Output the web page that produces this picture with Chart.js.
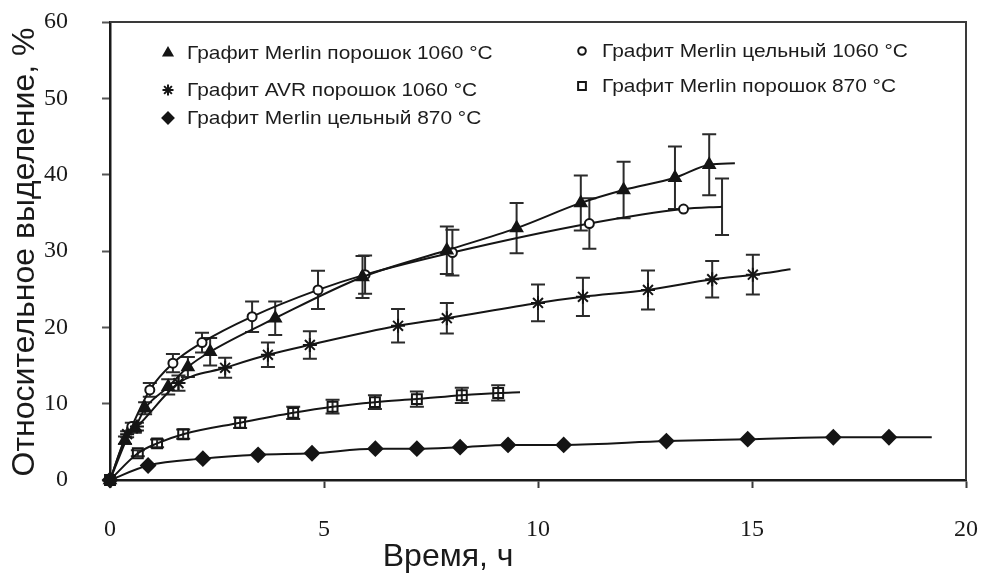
<!DOCTYPE html>
<html lang="ru">
<head>
<meta charset="utf-8">
<title>Относительное выделение</title>
<script src="https://cdn.jsdelivr.net/npm/chart.js@4/dist/chart.umd.min.js"></script>
<style>
    html, body { margin: 0; padding: 0; background: #fff; }
    #wrap { width: 984px; height: 578px; position: relative; }
</style>
</head>
<body>
<div id="wrap"><canvas id="chart"></canvas></div>
<script>
// ─── ОСИ ──────────────────────────────────────────────────
const xTicks = [0, 5, 10, 15, 20]
const yTicks = [0, 10, 20, 30, 40, 50, 60]
const xTitle = 'Время, ч'
const yTitle = 'Относительное выделение, %'

// ─── ДАННЫЕ (время, ч / выделение, % / погрешность) ──────
// Графит Merlin порошок 1060 °C
const mp1060X = [0, 0.35, 0.58, 0.82, 1.36, 1.82, 2.34, 3.86, 5.9, 7.87, 9.5, 11.0, 12.0, 13.2, 14.0]
const mp1060Y = [0, 5.2, 6.8, 9.4, 12.2, 14.8, 16.8, 21.2, 26.6, 30.1, 33.0, 36.3, 38.0, 39.6, 41.3]
const mp1060E = [0, 0.5, 0.6, 0.8, 1.0, 1.3, 1.8, 2.2, 2.75, 3.1, 3.3, 3.6, 3.7, 4.1, 4.0]
const mp1060End = [14.6, 41.5, 0]

// Графит AVR порошок 1060 °C
const avr1060X = [0, 0.4, 0.63, 1.6, 2.69, 3.69, 4.67, 6.73, 7.87, 10.0, 11.05, 12.57, 14.07, 15.02]
const avr1060Y = [0, 6.0, 7.0, 12.7, 14.7, 16.4, 17.7, 20.2, 21.2, 23.2, 24.0, 24.9, 26.3, 26.9]
const avr1060E = [0, 0.4, 0.5, 1.0, 1.3, 1.6, 1.8, 2.2, 2.0, 2.4, 2.5, 2.55, 2.4, 2.6]
const avr1060End = [15.9, 27.6, 0]

// Графит Merlin цельный 870 °C
const ms870X = [0, 0.89, 2.17, 3.46, 4.72, 6.2, 7.17, 8.18, 9.3, 10.6, 13.0, 14.9, 16.9, 18.2]
const ms870Y = [0, 1.9, 2.8, 3.3, 3.5, 4.1, 4.1, 4.3, 4.6, 4.6, 5.1, 5.35, 5.6, 5.6]
const ms870E = [0, 0, 0, 0, 0, 0, 0, 0, 0, 0, 0, 0, 0, 0]
const ms870End = [19.2, 5.6, 0]

// Графит Merlin цельный 1060 °C
const ms1060X = [0, 0.51, 0.93, 1.47, 2.15, 3.32, 4.86, 5.96, 8.0, 11.2, 13.4]
const ms1060Y = [0, 7.0, 11.8, 15.3, 18.0, 21.4, 24.9, 26.9, 29.8, 33.6, 35.5]
const ms1060E = [0, 0.5, 0.9, 1.2, 1.3, 2.0, 2.5, 2.5, 3.0, 3.3, 0]
const ms1060End = [14.3, 35.8, 3.7]

// Графит Merlin порошок 870 °C
const mp870X = [0, 0.65, 1.1, 1.71, 3.04, 4.28, 5.2, 6.19, 7.17, 8.22, 9.07]
const mp870Y = [0, 3.5, 4.8, 6.0, 7.5, 8.8, 9.6, 10.2, 10.6, 11.1, 11.4]
const mp870E = [0, 0.4, 0.5, 0.6, 0.7, 0.8, 0.9, 0.9, 1.0, 1.0, 1.0]
const mp870End = [9.58, 11.5, 0]

const INK = '#151515'

const series = [
    { name: 'Графит Merlin порошок 1060 °C', xs: mp1060X, ys: mp1060Y, es: mp1060E, end: mp1060End,
      style: 'triangle', radius: 6.5, fill: INK },
    { name: 'Графит AVR порошок 1060 °C', xs: avr1060X, ys: avr1060Y, es: avr1060E, end: avr1060End,
      style: 'star', radius: 7, fill: INK },
    { name: 'Графит Merlin цельный 870 °C', xs: ms870X, ys: ms870Y, es: ms870E, end: ms870End,
      style: 'rectRot', radius: 7, fill: INK },
    { name: 'Графит Merlin цельный 1060 °C', xs: ms1060X, ys: ms1060Y, es: ms1060E, end: ms1060End,
      style: 'circle', radius: 4.5, fill: '#fff' },
    { name: 'Графит Merlin порошок 870 °C', xs: mp870X, ys: mp870Y, es: mp870E, end: mp870End,
      style: 'rect', radius: 7, fill: 'rgba(255,255,255,0)' }
]

// ─── ПЛАГИНЫ ──────────────────────────────────────────────
const CAP = 7

const errorBars = {
    id: 'errorBars',
    beforeDatasetsDraw(chart) {
        const { ctx, scales: { x, y } } = chart
        ctx.save()
        ctx.strokeStyle = '#2b2b2b'
        ctx.lineWidth = 2
        chart.data.datasets.forEach(ds => {
            ds.data.forEach(p => {
                if (!p.err) return
                const px = x.getPixelForValue(p.x)
                const top = y.getPixelForValue(p.y + p.err)
                const bot = y.getPixelForValue(p.y - p.err)
                ctx.beginPath()
                ctx.moveTo(px, top)
                ctx.lineTo(px, bot)
                ctx.moveTo(px - CAP, top)
                ctx.lineTo(px + CAP, top)
                ctx.moveTo(px - CAP, bot)
                ctx.lineTo(px + CAP, bot)
                ctx.stroke()
            })
        })
        ctx.restore()
    }
}

const frame = {
    id: 'frame',
    afterDraw(chart) {
        const { ctx, chartArea: a } = chart
        ctx.save()
        ctx.strokeStyle = '#3a3a3a'
        ctx.lineWidth = 2
        ctx.beginPath()
        ctx.moveTo(a.left, a.top)
        ctx.lineTo(a.right, a.top)
        ctx.lineTo(a.right, a.bottom)
        ctx.stroke()
        ctx.restore()
    }
}

// подписи осей
const axisTitles = {
    id: 'axisTitles',
    afterDraw(chart) {
        const { ctx, chartArea: a } = chart
        ctx.save()
        ctx.fillStyle = '#1a1a1a'
        ctx.font = '32px "Liberation Sans", Arial, sans-serif'
        ctx.textAlign = 'center'
        ctx.textBaseline = 'alphabetic'
        ctx.translate(34, (a.top + a.bottom) / 2 + 1)
        ctx.rotate(-Math.PI / 2)
        ctx.fillText(yTitle, 0, 0)
        ctx.restore()

        ctx.save()
        ctx.fillStyle = '#1a1a1a'
        ctx.font = '32px "Liberation Sans", Arial, sans-serif'
        ctx.textAlign = 'center'
        ctx.textBaseline = 'alphabetic'
        ctx.fillText(xTitle, a.left + (a.right - a.left) * 0.395, 566)
        ctx.restore()
    }
}

// легенда в две колонки внутри поля графика
const legendBox = {
    id: 'legendBox',
    afterDraw(chart) {
        const { ctx, chartArea: a } = chart
        const slots = [
            { col: 0, base: 37 }, { col: 0, base: 74 }, { col: 0, base: 102 },
            { col: 1, base: 35 }, { col: 1, base: 70 }
        ]
        const cols = [{ mark: 58, text: 77 }, { mark: 472, text: 492 }]
        series.forEach((s, i) => {
            const slot = slots[i]
            const c = cols[slot.col]
            const by = a.top + slot.base
            ctx.save()
            ctx.fillStyle = s.fill
            ctx.strokeStyle = INK
            ctx.lineWidth = 2
            Chart.helpers.drawPoint(ctx, {
                pointStyle: s.style,
                radius: s.style === 'circle' ? 3.8 : s.radius - 1.5,
                borderWidth: 2,
                rotation: 0
            }, a.left + c.mark, by - 6)
            ctx.restore()

            ctx.save()
            ctx.fillStyle = '#1c1c1c'
            ctx.font = '19px "Liberation Sans", Arial, sans-serif'
            ctx.textBaseline = 'alphabetic'
            ctx.translate(a.left + c.text, by)
            ctx.scale(1.1, 1)
            ctx.fillText(s.name, 0, 0)
            ctx.restore()
        })
    }
}

// ─── ГРАФИК ───────────────────────────────────────────────
const datasets = series.map(s => {
    const pts = s.xs.map((x, i) => ({ x, y: s.ys[i], err: s.es[i] }))
    pts.push({ x: s.end[0], y: s.end[1], err: s.end[2] })
    const n = s.xs.length
    return {
        label: s.name,
        data: pts,
        borderColor: INK,
        borderWidth: 2,
        backgroundColor: s.fill,
        pointStyle: s.style,
        pointRadius: ctx => ctx.dataIndex < n ? s.radius : 0,
        pointHoverRadius: ctx => ctx.dataIndex < n ? s.radius : 0,
        pointBorderWidth: 2,
        pointBorderColor: INK,
        pointBackgroundColor: s.fill,
        cubicInterpolationMode: 'monotone',
        fill: false,
        clip: false
    }
})

const tickFont = { family: '"Liberation Serif", "Times New Roman", serif', size: 24 }

new Chart(document.getElementById('chart'), {
    type: 'line',
    data: { datasets },
    options: {
        responsive: true,
        maintainAspectRatio: false,
        animation: false,
        layout: { padding: { left: 0, right: 18, top: 22, bottom: 0 } },
        plugins: {
            legend: { display: false },
            tooltip: { enabled: false }
        },
        scales: {
            x: {
                type: 'linear',
                min: xTicks[0],
                max: xTicks[xTicks.length - 1],
                afterBuildTicks: s => { s.ticks = xTicks.map(v => ({ value: v })) },
                afterFit: s => {
                    s.height = 98
                    s.paddingLeft = 0
                    s.paddingRight = 0
                },
                ticks: { font: tickFont, color: '#1a1a1a', padding: 27, maxRotation: 0 },
                grid: { drawOnChartArea: false, drawTicks: true, tickLength: 8, tickColor: '#3a3a3a', tickWidth: 2 },
                border: { color: '#1a1a1a', width: 2.5 }
            },
            y: {
                type: 'linear',
                min: yTicks[0],
                max: yTicks[yTicks.length - 1],
                afterBuildTicks: s => { s.ticks = yTicks.map(v => ({ value: v })) },
                afterFit: s => {
                    s.width = 110
                    s.paddingTop = 0
                    s.paddingBottom = 0
                },
                ticks: { font: tickFont, color: '#1a1a1a', padding: 34 },
                grid: { drawOnChartArea: false, drawTicks: true, tickLength: 8, tickColor: '#555', tickWidth: 2 },
                border: { color: '#1a1a1a', width: 2.5 }
            }
        }
    },
    plugins: [errorBars, frame, axisTitles, legendBox]
})
</script>
</body>
</html>
